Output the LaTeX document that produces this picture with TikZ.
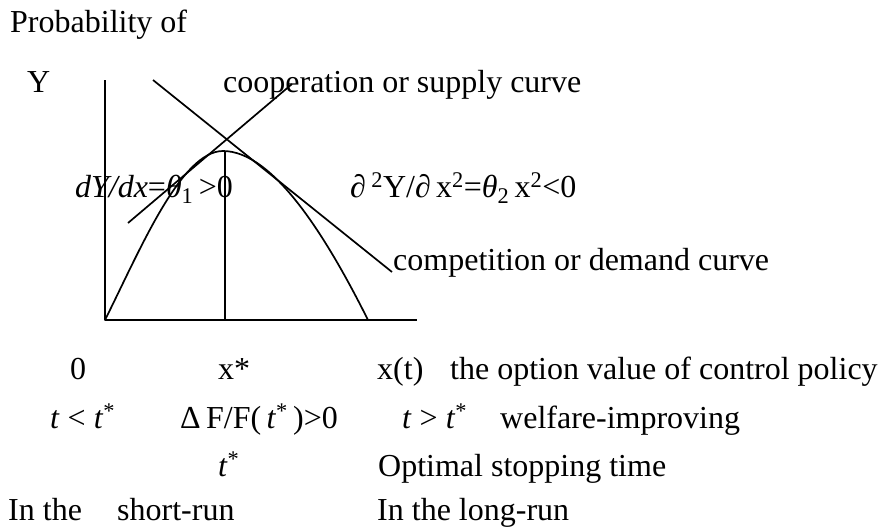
\documentclass[tikz,border=0pt]{standalone}
\usepackage{fontspec}
\setmainfont{Liberation Serif}
\begin{document}
\begin{tikzpicture}[x=1pt,y=-1pt,
  lbl/.style={anchor=base west, inner sep=0pt, font=\fontsize{32}{38}\selectfont},
  curveline/.style={line width=1.7pt, line join=round}]
\useasboundingbox (0,0) rectangle (885,528);
% axes and curve coordinates
\coordinate (O) at (105,320);
\coordinate (Ytop) at (105,80);
\coordinate (Xend) at (417,320);
\coordinate (peak) at (223,151);
\coordinate (xsbot) at (225,320);
\coordinate (xstop) at (225,152);
\coordinate (Pend) at (368,320);
\coordinate (S1) at (128,223);
\coordinate (S2) at (292,84);
\coordinate (D1) at (153,80);
\coordinate (D2) at (392,272);
\draw[curveline] (Ytop) -- (O) -- (Xend);
\draw[curveline] (xstop) -- (xsbot);
\draw[curveline] (O) .. controls (140,250) and (181,151) .. (peak)
                     .. controls (273,151) and (326,236) .. (Pend);
\draw[curveline] (S1) -- (S2);
\draw[curveline] (D1) -- (D2);
% labels
\node[lbl] (prob) at (10,32) {Probability of};
\node[lbl] (Y) at (27,92) {Y};
\node[lbl] (coop) at (223,92) {cooperation or supply curve};
\node[lbl, anchor=base east] (dydx) at (233,197) {\textit{dY/dx}=\textit{θ}\textsubscript{1}\,>0};
\node[lbl] (d2y) at (350,197) {∂\,\textsuperscript{2}Y/∂\,x\textsuperscript{2}=\textit{θ}\textsubscript{2}\,x\textsuperscript{2}<0};
\node[lbl] (comp) at (393,270) {competition or demand curve};
% row 1
\node[lbl] (zero) at (70,379) {0};
\node[lbl] (xstar) at (218,379) {x*};
\node[lbl] (xt) at (377,379) {x(t)};
\node[lbl] (option) at (450,379) {the option value of control policy};
% row 2
\node[lbl] (tless) at (50,428) {\textit{t} < \textit{t}\textsuperscript{*}};
\node[lbl] (dF) at (180,428) {Δ\,F/F(\,\textit{t}\textsuperscript{*}\,)>0};
\node[lbl] (tgreater) at (402,428) {\textit{t} > \textit{t}\textsuperscript{*}};
\node[lbl] (welfare) at (500,428) {welfare-improving};
% row 3
\node[lbl] (tstar) at (218,476) {\textit{t}\textsuperscript{*}};
\node[lbl] (optimal) at (378,476) {Optimal stopping time};
% row 4
\node[lbl] (inthe) at (8,520) {In the};
\node[lbl] (short) at (117,520) {short-run};
\node[lbl] (long) at (377,520) {In the long-run};
\end{tikzpicture}
\end{document}
